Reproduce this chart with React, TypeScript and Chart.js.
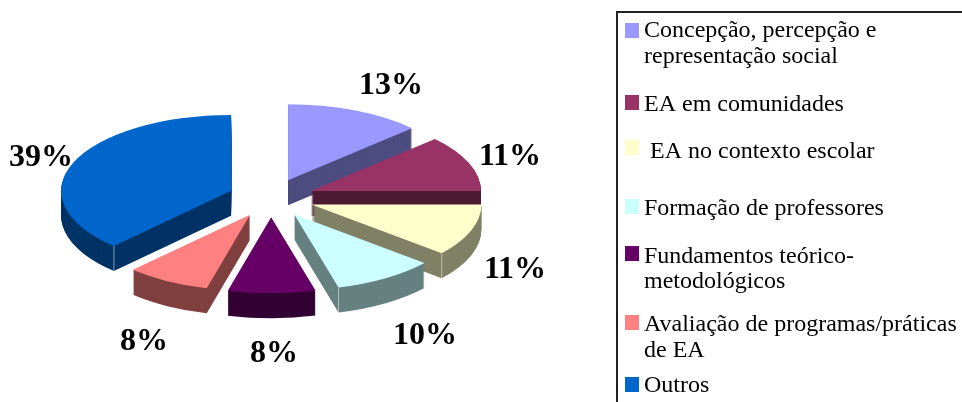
import React, { useEffect, useRef } from "react";
import { Chart, registerables } from "chart.js";

Chart.register(...registerables);

const categories: string[][] = [
  ["Concepção, percepção e", "representação social"],
  ["EA em comunidades"],
  [" EA no contexto escolar"],
  ["Formação de professores"],
  ["Fundamentos teórico-", "metodológicos"],
  ["Avaliação de programas/práticas", "de EA"],
  ["Outros"],
];
// slice shares as drawn in the picture (angles measured)
const drawnShares = [13, 12, 11.1, 9.7, 8.3, 8, 37.9];
const printedLabels = ["13%", "11%", "11%", "10%", "8%", "8%", "39%"];
const topColors = ["#9999FF", "#993366", "#FFFFCC", "#CCFFFF", "#660066", "#FF8080", "#0066CC"];
const sideColors = ["#4D4D80", "#4D1A33", "#808066", "#668080", "#330033", "#804040", "#003366"];

const FONT = '"Liberation Serif", "Times New Roman", serif';

const pie3d = {
  id: "pie3d",
  beforeDatasetsDraw(chart: any, _a: any, o: any) {
    const { ctx } = chart;
    const arcs = chart.getDatasetMeta(0).data;
    const a0 = arcs[0];
    for (const i of o.order) {
      const arc = arcs[i];
      const mid = (arc.startAngle + arc.endAngle) / 2;
      const base = arc.options.backgroundColor;
      ctx.save();
      ctx.translate(o.cx, o.cy);
      ctx.scale(1, o.tilt);
      ctx.translate(-a0.x, -a0.y);
      ctx.translate(Math.cos(mid) * o.explode, Math.sin(mid) * o.explode);
      arc.options.backgroundColor = sideColors[i];
      for (let d = o.depth; d > 0; d--) {
        ctx.save();
        ctx.translate(0, d / o.tilt);
        arc.draw(ctx);
        ctx.restore();
      }
      arc.options.backgroundColor = base;
      arc.draw(ctx);
      ctx.restore();
      // thin light edge at the front corner of the slice
      const corner = o.corners[i];
      if (corner) {
        const ang = corner === "start" ? arc.startAngle : arc.endAngle;
        const x = o.cx + Math.cos(mid) * o.explode + Math.cos(ang) * arc.outerRadius;
        const y = o.cy + o.tilt * (Math.sin(mid) * o.explode + Math.sin(ang) * arc.outerRadius);
        ctx.save();
        ctx.strokeStyle = "rgba(255,255,255,0.5)";
        ctx.lineWidth = 1;
        ctx.beginPath();
        ctx.moveTo(x, y);
        ctx.lineTo(x, y + o.depth);
        ctx.stroke();
        ctx.restore();
      }
    }
    return false;
  },
  afterDraw(chart: any, _a: any, o: any) {
    const { ctx } = chart;
    ctx.save();
    // percentage labels
    ctx.fillStyle = "#000";
    ctx.font = `bold ${o.valueSize}px ${FONT}`;
    ctx.textAlign = "center";
    ctx.textBaseline = "alphabetic";
    printedLabels.forEach((t, i) => ctx.fillText(t, o.valuePos[i][0], o.valuePos[i][1]));
    // legend box
    ctx.strokeStyle = "#222";
    ctx.lineWidth = 2;
    ctx.strokeRect(o.box[0], o.box[1], o.box[2], o.box[3]);
    ctx.font = `${o.legendSize}px ${FONT}`;
    ctx.textAlign = "left";
    chart.data.labels.forEach((lines: string[], i: number) => {
      ctx.fillStyle = topColors[i];
      ctx.fillRect(o.swatchX, o.swatchY[i], 14, 15);
      ctx.fillStyle = "#000";
      lines.forEach((l, j) => ctx.fillText(l, o.textX, o.baselines[i][j]));
    });
    ctx.restore();
  },
};

export default function App() {
  const ref = useRef<HTMLCanvasElement>(null);
  useEffect(() => {
    const chart = new Chart(ref.current!, {
      type: "pie",
      data: {
        labels: categories as any,
        datasets: [{ data: drawnShares, backgroundColor: topColors, borderWidth: 0 }],
      },
      options: {
        responsive: false,
        animation: false,
        radius: 170,
        layout: { padding: 0 },
        plugins: {
          legend: { display: false },
          tooltip: { enabled: false },
          pie3d: {
            cx: 271,
            cy: 198,
            tilt: 0.447,
            explode: 43,
            depth: 25,
            order: [6, 0, 1, 2, 5, 3, 4],
            corners: [null, null, "end", "end", null, "end", "start"],
            valueSize: 32,
            valuePos: [
              [391, 94], [510, 165], [515, 278], [425, 344], [274, 362], [144, 350], [41, 166],
            ],
            box: [617, 12, 400, 420],
            swatchX: 625,
            swatchY: [23, 95, 140, 199, 246, 315, 377],
            textX: 644,
            legendSize: 24,
            baselines: [[37, 63], [111], [158], [215], [263, 288], [331, 357], [392]],
          },
        } as any,
      },
      plugins: [pie3d as any],
    } as any);
    return () => chart.destroy();
  }, []);
  return (
    <div style={{ position: "absolute", left: 0, top: 0, width: 962, height: 402, background: "#fff", overflow: "hidden" }}>
      <canvas ref={ref} width={962} height={402} style={{ display: "block" }} />
    </div>
  );
}
